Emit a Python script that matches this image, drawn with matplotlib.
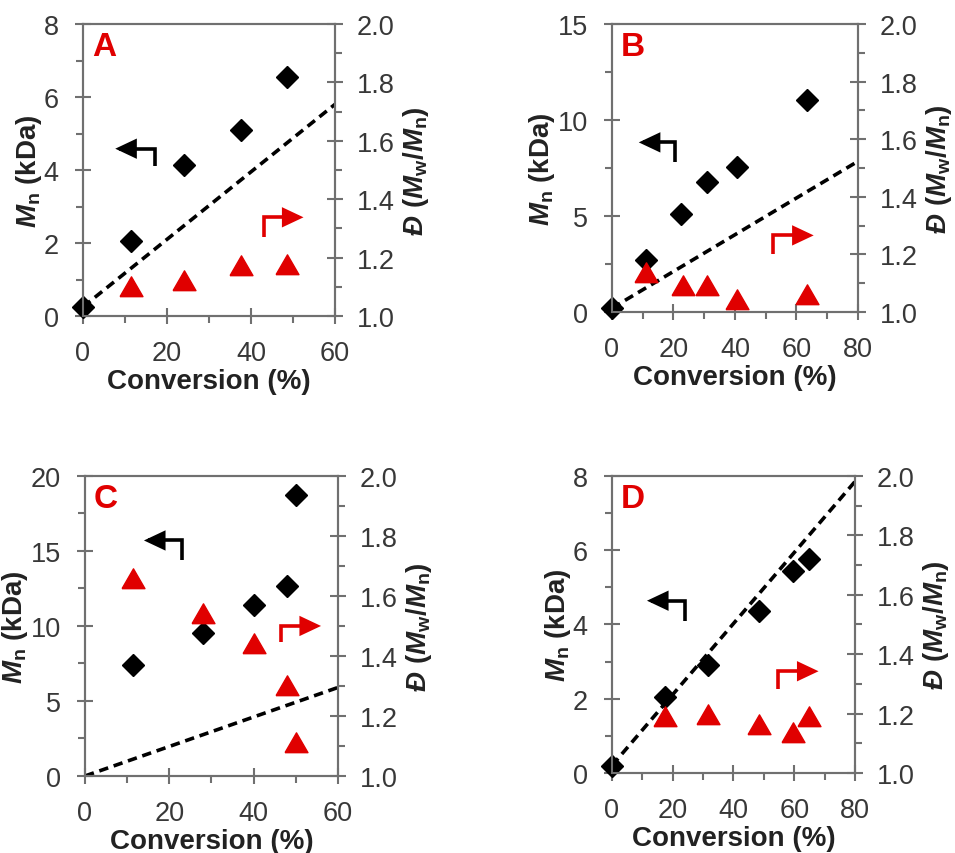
import numpy as np
import matplotlib
matplotlib.use('Agg')
import matplotlib.pyplot as plt
from matplotlib.patches import FancyArrowPatch
from matplotlib.path import Path
from matplotlib.ticker import MultipleLocator, FormatStrFormatter

#### data
##############################################################################
# panel A
conv_a = [0, 11.5, 24, 37.5, 48.5]
mn_a = [0.25, 2.05, 4.15, 5.1, 6.55]
conv_a_disp = [11.5, 24, 37.5, 48.5]
disp_a = [1.10, 1.12, 1.17, 1.175]
theo_a_x = [0, 60]
theo_a_y = [0.25, 5.8]

# panel B
conv_b = [0, 11, 22.5, 31, 40.5, 63.5]
mn_b = [0.2, 2.7, 5.1, 6.75, 7.55, 11.05]
conv_b_disp = [11, 23, 31, 40.5, 63.5]
disp_b = [1.135, 1.09, 1.09, 1.04, 1.06]
theo_b_x = [0, 80]
theo_b_y = [0.2, 7.85]

# panel C
conv_c = [11.5, 28, 40, 48, 50]
mn_c = [7.4, 9.5, 11.4, 12.65, 18.7]
conv_c_disp = [11.5, 28, 40, 48, 50]
disp_c = [1.655, 1.54, 1.44, 1.30, 1.11]
theo_c_x = [0, 60]
theo_c_y = [0.0, 5.9]

# panel D
conv_d = [0, 17.5, 31.5, 48.5, 59.5, 65]
mn_d = [0.2, 2.05, 2.9, 4.35, 5.45, 5.75]
conv_d_disp = [17.5, 31.5, 48.5, 59.5, 65]
disp_d = [1.19, 1.195, 1.16, 1.135, 1.19]
theo_d_x = [0, 80]
theo_d_y = [0.2, 7.85]

panel_letters = ['A', 'B', 'C', 'D']

#### style
##############################################################################
plt.rcParams['font.family'] = ['Liberation Sans', 'DejaVu Sans']
plt.rcParams['mathtext.fontset'] = 'custom'
plt.rcParams['mathtext.rm'] = 'Liberation Sans:bold'
plt.rcParams['mathtext.it'] = 'Liberation Sans:italic:bold'
plt.rcParams['mathtext.bf'] = 'Liberation Sans:bold'

red = '#e00000'
spine_col = '#707070'
tick_col = '#383838'
fs_tick = 19.5
fs_label = 20

# equilateral-ish triangle marker
tri = [(-1, -0.8), (1, -0.8), (0, 0.93), (-1, -0.8)]

# (axes rect, xmax, ymax, x major, y major, data, arrows in axes fraction)
panels = [
    dict(rect=[0.0869, 0.6288, 0.2639, 0.3419], xmax=60, ymax=8,
         xmaj=20, ymaj=2,
         x=conv_a, y=mn_a, xd=conv_a_disp, d=disp_a,
         tx=theo_a_x, ty=theo_a_y,
         black=[(0.287, 0.515), (0.287, 0.573), (0.128, 0.573)],
         redarr=[(0.717, 0.27), (0.717, 0.338), (0.875, 0.338)]),
    dict(rect=[0.6408, 0.6335, 0.2576, 0.3372], xmax=80, ymax=15,
         xmaj=20, ymaj=5,
         x=conv_b, y=mn_b, xd=conv_b_disp, d=disp_b,
         tx=theo_b_x, ty=theo_b_y,
         black=[(0.258, 0.52), (0.258, 0.589), (0.109, 0.589)],
         redarr=[(0.655, 0.202), (0.655, 0.266), (0.82, 0.266)]),
    dict(rect=[0.0890, 0.0902, 0.2649, 0.3513], xmax=60, ymax=20,
         xmaj=20, ymaj=5,
         x=conv_c, y=mn_c, xd=conv_c_disp, d=disp_c,
         tx=theo_c_x, ty=theo_c_y,
         black=[(0.385, 0.72), (0.385, 0.785), (0.233, 0.785)],
         redarr=[(0.773, 0.445), (0.773, 0.5), (0.933, 0.5)]),
    dict(rect=[0.6408, 0.0937, 0.2545, 0.3478], xmax=80, ymax=8,
         xmaj=20, ymaj=2,
         x=conv_d, y=mn_d, xd=conv_d_disp, d=disp_d,
         tx=theo_d_x, ty=theo_d_y,
         black=[(0.301, 0.513), (0.301, 0.58), (0.144, 0.58)],
         redarr=[(0.685, 0.284), (0.685, 0.3425), (0.85, 0.3425)]),
]


def style_axis(ax):
    ax.tick_params(which='major', direction='inout', length=11, width=1.5,
                   color=spine_col, labelsize=fs_tick, labelcolor=tick_col)
    ax.tick_params(which='minor', direction='out', length=5, width=1.5,
                   color=spine_col)
    for s in ax.spines.values():
        s.set_color(spine_col)
        s.set_linewidth(1.5)


def bent_arrow(ax, verts, color):
    arr = FancyArrowPatch(path=Path(verts),
                          arrowstyle='-|>,head_length=0.7,head_width=0.33',
                          mutation_scale=16, lw=2.6, color=color,
                          transform=ax.transAxes, joinstyle='miter',
                          capstyle='butt', zorder=5)
    ax.add_patch(arr)


#### plot
##############################################################################
fig = plt.figure(figsize=(9.55, 8.54), dpi=100)

for p, letter in zip(panels, panel_letters):
    ax = fig.add_axes(p['rect'])
    ax2 = ax.twinx()

    # theoretical line + Mn
    ax.plot(p['tx'], p['ty'], ls=(0, (2.6, 1.6)), color='black', lw=2.6,
            zorder=2)
    ax.plot(p['x'], p['y'], ls='none', marker='D', ms=11, color='black',
            zorder=3, clip_on=False)
    # dispersity
    ax2.plot(p['xd'], p['d'], ls='none', marker=tri, ms=16.5, color=red,
             zorder=3, clip_on=False)

    ax.set_xlim(0, p['xmax'])
    ax.set_ylim(0, p['ymax'])
    ax2.set_ylim(1.0, 2.0)

    ax.xaxis.set_major_locator(MultipleLocator(p['xmaj']))
    ax.xaxis.set_minor_locator(MultipleLocator(p['xmaj'] / 2))
    ax.yaxis.set_major_locator(MultipleLocator(p['ymaj']))
    ax.yaxis.set_minor_locator(MultipleLocator(p['ymaj'] / 2))
    ax2.yaxis.set_major_locator(MultipleLocator(0.2))
    ax2.yaxis.set_minor_locator(MultipleLocator(0.1))
    ax2.yaxis.set_major_formatter(FormatStrFormatter('%.1f'))

    style_axis(ax)
    style_axis(ax2)
    ax.tick_params(top=False, which='both')
    ax2.tick_params(top=False, which='both')
    ax.tick_params(axis='x', which='major', pad=12)
    ax.tick_params(axis='y', which='major', pad=12)
    ax2.tick_params(axis='y', which='major', pad=10)

    ax.set_xlabel('Conversion (%)', fontsize=fs_label, fontweight='bold',
                  color='#222222', labelpad=1)
    ax.set_ylabel(r'$M_\mathrm{n}$ (kDa)', fontsize=fs_label,
                  fontweight='bold', color='#222222', labelpad=0)
    ax2.set_ylabel(r'$Đ\ (M_\mathrm{w}/M_\mathrm{n})$', fontsize=fs_label,
                   color='#222222', labelpad=5)

    ax.text(0.035, 0.975, letter, transform=ax.transAxes, color=red,
            fontsize=24, fontweight='bold', ha='left', va='top')

    bent_arrow(ax2, p['black'], 'black')
    bent_arrow(ax2, p['redarr'], red)

fig.savefig('out.png', dpi=100)
